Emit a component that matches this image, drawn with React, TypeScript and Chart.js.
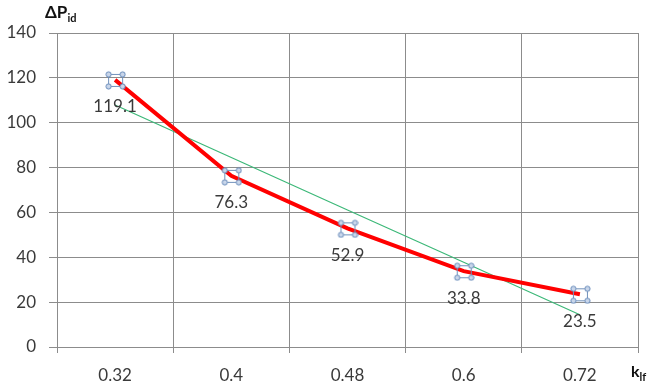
import React, { useEffect, useRef } from "react";
import { Chart, registerables } from "chart.js";

Chart.register(...registerables);

const categories = ["0.32", "0.4", "0.48", "0.6", "0.72"];
const deltaP = [119.1, 76.3, 52.9, 33.8, 23.5];
const trendValues = [107.9, 84.5, 61.1, 37.8, 14.4];
const dataLabels = ["119.1", "76.3", "52.9", "33.8", "23.5"];
const yMin = 0;
const yMax = 140;
const yStep = 20;

const FONT = "Lato, 'Noto Sans', sans-serif";
const GRID = "#8c8c8c";
const TEXT = "#3a3a3a";

function makeMarker(): HTMLCanvasElement {
  const c = document.createElement("canvas");
  c.width = 22;
  c.height = 20;
  const g = c.getContext("2d")!;
  const x0 = 4, y0 = 4, w = 14, h = 12;
  g.strokeStyle = "#7090bb";
  g.lineWidth = 1;
  g.strokeRect(x0 + 0.5, y0 + 0.5, w, h);
  const corners = [
    [x0 + 0.5, y0 + 0.5],
    [x0 + w + 0.5, y0 + 0.5],
    [x0 + 0.5, y0 + h + 0.5],
    [x0 + w + 0.5, y0 + h + 0.5],
  ];
  for (const [cx, cy] of corners) {
    g.beginPath();
    g.arc(cx, cy, 2.6, 0, Math.PI * 2);
    g.fillStyle = "#c9d6ea";
    g.fill();
    g.strokeStyle = "#6488b8";
    g.stroke();
  }
  return c;
}

const labelPlugin = {
  id: "pointLabels",
  afterDatasetsDraw(chart: any) {
    const ctx = chart.ctx;
    const meta = chart.getDatasetMeta(0);
    ctx.save();
    ctx.font = `17px ${FONT}`;
    ctx.fillStyle = TEXT;
    ctx.textAlign = "center";
    ctx.textBaseline = "middle";
    meta.data.forEach((p: any, i: number) => {
      ctx.fillText(dataLabels[i], p.x, p.y + 27);
    });
    ctx.restore();
  },
};

const titlePlugin = {
  id: "axisTitles",
  afterDraw(chart: any) {
    const ctx = chart.ctx;
    ctx.save();
    ctx.fillStyle = "#111";
    ctx.textBaseline = "alphabetic";
    ctx.textAlign = "left";
    ctx.font = `bold 17px ${FONT}`;
    ctx.fillText("ΔP", 45, 18);
    const w1 = ctx.measureText("ΔP").width;
    ctx.font = `bold 11px ${FONT}`;
    ctx.fillText("id", 45 + w1, 22);
    ctx.font = `bold 16px ${FONT}`;
    ctx.fillText("k", 631, 377);
    const w2 = ctx.measureText("k").width;
    ctx.font = `bold 11px ${FONT}`;
    ctx.fillText("lf", 631 + w2, 381);
    ctx.restore();
  },
};

export default function App() {
  const ref = useRef<HTMLCanvasElement | null>(null);
  useEffect(() => {
    if (!ref.current) return;
    const marker = makeMarker();
    const chart = new Chart(ref.current, {
      type: "line",
      data: {
        labels: categories,
        datasets: [
          {
            data: deltaP,
            borderColor: "#ff0000",
            borderWidth: 4,
            pointStyle: marker as any,
            pointRadius: 8,
            tension: 0,
            order: 0,
          },
          {
            data: trendValues,
            borderColor: "#3cb878",
            borderWidth: 1.2,
            pointRadius: 0,
            tension: 0,
            order: 1,
          },
        ],
      },
      options: {
        animation: false,
        responsive: false,
        layout: { padding: { top: 33, right: 15, left: 0, bottom: 0 } },
        plugins: { legend: { display: false }, tooltip: { enabled: false } },
        scales: {
          x: {
            offset: true,
            grid: { offset: true, color: GRID, tickLength: 6, lineWidth: 1 },
            border: { color: GRID },
            ticks: { color: TEXT, font: { family: FONT, size: 17 }, padding: 12 },
            afterFit(scale: any) {
              scale.height = 42;
            },
          },
          y: {
            min: yMin,
            max: yMax,
            grid: { color: GRID, tickLength: 8 },
            border: { color: GRID },
            ticks: {
              stepSize: yStep,
              color: TEXT,
              font: { family: FONT, size: 17 },
              padding: 13,
            },
            afterFit(scale: any) {
              scale.width = 57;
            },
          },
        },
      },
      plugins: [labelPlugin, titlePlugin],
    });
    return () => chart.destroy();
  }, []);
  return (
    <div style={{ position: "absolute", left: 0, top: 0, width: 653, height: 389, background: "#fff" }}>
      <canvas ref={ref} width={653} height={389} />
    </div>
  );
}
